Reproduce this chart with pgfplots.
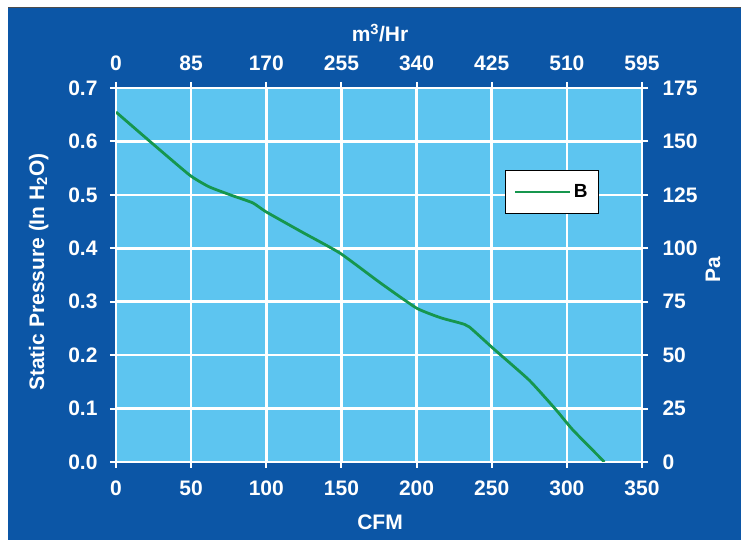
\documentclass[border=0pt]{standalone}
\usepackage{pgfplots}
\pgfplotsset{compat=1.18}
\usepackage{fontspec}
\setmainfont{Liberation Sans}
\definecolor{bgblue}{RGB}{12,86,166}
\definecolor{plotblue}{RGB}{93,197,240}
\definecolor{curvegreen}{RGB}{22,150,78}
\newcommand{\tf}{\bfseries\fontsize{21}{23}\selectfont}
\begin{document}
\begin{tikzpicture}
\useasboundingbox (0,0) rectangle (741pt,540pt);
\fill[white] (0,0) rectangle (741pt,540pt);
\fill[bgblue] (8pt,0) rectangle (741pt,532pt);
\draw[black!70, line width=1pt] (8pt,532pt) -- (741pt,532pt);
\begin{axis}[
  at={(116pt,78pt)}, anchor=south west, scale only axis,
  width=526pt, height=374pt,
  xmin=0, xmax=350, ymin=0, ymax=0.7,
  xtick={0,50,...,350}, ytick={0,0.1,...,0.7},
  xtick pos=bottom, ytick pos=left,
  tick align=outside, major tick length=6pt,
  every tick/.style={white, line width=2pt},
  axis line style={white, line width=2.5pt},
  axis background/.style={fill=plotblue},
  grid=major, major grid style={white, line width=2.5pt},
  /pgf/number format/assume math mode=true,
  yticklabel style={/pgf/number format/fixed, /pgf/number format/fixed zerofill, /pgf/number format/precision=1, xshift=-9pt},
  xticklabel style={anchor=center, yshift=-20pt},
  tick label style={font=\tf, text=white},
  xlabel={CFM},
  ylabel={Static Pressure (In H\textsubscript{2}O)},
  label style={font=\tf, text=white},
  xlabel style={at={(axis description cs:0.502,-0.162)}, anchor=center},
  ylabel style={at={(axis description cs:-0.147,0.508)}, anchor=center},
  legend style={at={(0.918,0.781)}, anchor=north east, draw=black, fill=white, line width=0.8pt,
    font=\bfseries\fontsize{19}{21}\selectfont, inner xsep=9pt, inner ysep=12.5pt},
  legend image code/.code={\draw[#1] (0pt,0pt) -- (55pt,0pt);},
]
\addplot[curvegreen, line width=2.8pt, smooth, tension=0.3] coordinates {
(0,0.655) (22.6,0.600) (49,0.537) (62,0.515) (78,0.498) (91,0.485) (100,0.468)
(124,0.430) (149,0.391) (176,0.335) (200,0.288) (216,0.270) (229,0.260) (235,0.253)
(252,0.210) (275,0.153) (293,0.097) (304,0.060) (325,0.000)
};
\addlegendentry{B}
\end{axis}
\begin{axis}[
  at={(116pt,78pt)}, anchor=south west, scale only axis,
  width=526pt, height=374pt,
  xmin=0, xmax=595, ymin=0, ymax=175,
  axis x line*=top, axis y line*=right,
  xtick={0,85,...,595}, ytick={0,25,...,175},
  tick align=outside, major tick length=6pt,
  every tick/.style={white, line width=2pt},
  axis line style={white, line width=2.5pt, -},
  /pgf/number format/assume math mode=true,
  xticklabel style={anchor=center, yshift=18.5pt},
  yticklabel style={xshift=11pt},
  tick label style={font=\tf, text=white},
  xlabel={m\textsuperscript{3}/Hr},
  ylabel={Pa},
  label style={font=\tf, text=white},
  xlabel style={at={(axis description cs:0.502,1.147)}, anchor=center},
  ylabel style={at={(axis description cs:1.135,0.513)}, anchor=center},
]
\addplot[draw=none] coordinates {(0,0)};
\end{axis}
\end{tikzpicture}
\end{document}
